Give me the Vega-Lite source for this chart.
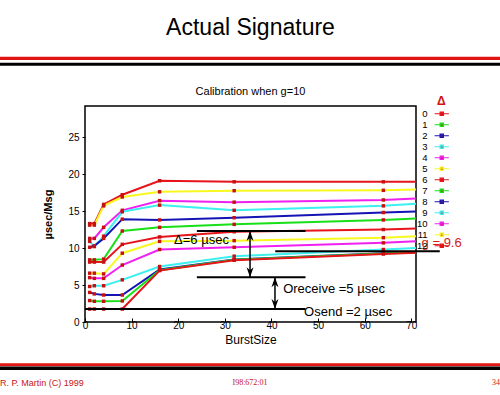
{
  "$schema": "https://vega.github.io/schema/vega-lite/v6.json",
  "width": 331,
  "height": 216,
  "autosize": {"type": "none"},
  "padding": {"left": 85, "top": 106, "right": 84, "bottom": 73},
  "background": "white",
  "config": {
    "font": "Liberation Sans",
    "view": {"stroke": "black", "strokeWidth": 1.5},
    "axis": {"domain": false, "grid": false, "tickColor": "black", "labelColor": "black", "titleColor": "black", "labelFont": "Liberation Sans", "titleFont": "Liberation Sans"}
  },
  "title": {
    "text": "Actual Signature",
    "subtitle": "Calibration when g=10",
    "fontSize": 23,
    "fontWeight": "normal",
    "font": "Liberation Sans",
    "subtitleFont": "Liberation Sans",
    "subtitleFontSize": 11,
    "subtitlePadding": 46,
    "offset": -40,
    "anchor": "middle",
    "color": "black",
    "subtitleColor": "black"
  },
  "datasets": {
    "series": [
      {"d": 12, "x": 1, "y": 13.3}, {"d": 12, "x": 2, "y": 13.3}, {"d": 12, "x": 4, "y": 15.9}, {"d": 12, "x": 8, "y": 17.2}, {"d": 12, "x": 16, "y": 19.1}, {"d": 12, "x": 32, "y": 18.95}, {"d": 12, "x": 64, "y": 18.95}, {"d": 12, "x": 71, "y": 18.95},
      {"d": 11, "x": 1, "y": 13.1}, {"d": 11, "x": 2, "y": 13.1}, {"d": 11, "x": 4, "y": 15.7}, {"d": 11, "x": 8, "y": 16.9}, {"d": 11, "x": 16, "y": 17.6}, {"d": 11, "x": 32, "y": 17.75}, {"d": 11, "x": 64, "y": 17.8}, {"d": 11, "x": 71, "y": 17.9},
      {"d": 10, "x": 1, "y": 11.3}, {"d": 10, "x": 2, "y": 11.3}, {"d": 10, "x": 4, "y": 12.8}, {"d": 10, "x": 8, "y": 15.1}, {"d": 10, "x": 16, "y": 16.4}, {"d": 10, "x": 32, "y": 16.2}, {"d": 10, "x": 64, "y": 16.5}, {"d": 10, "x": 71, "y": 16.7},
      {"d": 9, "x": 1, "y": 10.9}, {"d": 9, "x": 2, "y": 10.2}, {"d": 9, "x": 4, "y": 11.6}, {"d": 9, "x": 8, "y": 14.9}, {"d": 9, "x": 16, "y": 15.8}, {"d": 9, "x": 32, "y": 15.1}, {"d": 9, "x": 64, "y": 15.7}, {"d": 9, "x": 71, "y": 16.0},
      {"d": 8, "x": 1, "y": 10.1}, {"d": 8, "x": 2, "y": 10.3}, {"d": 8, "x": 4, "y": 11.3}, {"d": 8, "x": 8, "y": 13.9}, {"d": 8, "x": 16, "y": 13.8}, {"d": 8, "x": 32, "y": 14.1}, {"d": 8, "x": 64, "y": 14.8}, {"d": 8, "x": 71, "y": 14.95},
      {"d": 7, "x": 1, "y": 8.4}, {"d": 7, "x": 2, "y": 8.4}, {"d": 7, "x": 4, "y": 8.5}, {"d": 7, "x": 8, "y": 12.3}, {"d": 7, "x": 16, "y": 12.8}, {"d": 7, "x": 32, "y": 13.2}, {"d": 7, "x": 64, "y": 13.8}, {"d": 7, "x": 71, "y": 14.0},
      {"d": 6, "x": 1, "y": 8.1}, {"d": 6, "x": 2, "y": 8.1}, {"d": 6, "x": 4, "y": 8.1}, {"d": 6, "x": 8, "y": 10.5}, {"d": 6, "x": 16, "y": 11.5}, {"d": 6, "x": 32, "y": 12.2}, {"d": 6, "x": 64, "y": 12.5}, {"d": 6, "x": 71, "y": 12.65},
      {"d": 5, "x": 1, "y": 6.6}, {"d": 5, "x": 2, "y": 6.6}, {"d": 5, "x": 4, "y": 6.5}, {"d": 5, "x": 8, "y": 9.3}, {"d": 5, "x": 16, "y": 10.9}, {"d": 5, "x": 32, "y": 11.0}, {"d": 5, "x": 64, "y": 11.4}, {"d": 5, "x": 71, "y": 11.6},
      {"d": 4, "x": 1, "y": 6.0}, {"d": 4, "x": 2, "y": 5.9}, {"d": 4, "x": 4, "y": 5.9}, {"d": 4, "x": 8, "y": 7.7}, {"d": 4, "x": 16, "y": 9.8}, {"d": 4, "x": 32, "y": 10.1}, {"d": 4, "x": 64, "y": 10.7}, {"d": 4, "x": 71, "y": 10.9},
      {"d": 3, "x": 1, "y": 4.8}, {"d": 3, "x": 2, "y": 4.9}, {"d": 3, "x": 4, "y": 4.9}, {"d": 3, "x": 8, "y": 5.7}, {"d": 3, "x": 16, "y": 7.5}, {"d": 3, "x": 32, "y": 8.9}, {"d": 3, "x": 64, "y": 9.8}, {"d": 3, "x": 71, "y": 10.0},
      {"d": 2, "x": 1, "y": 4.0}, {"d": 2, "x": 2, "y": 3.8}, {"d": 2, "x": 4, "y": 3.65}, {"d": 2, "x": 8, "y": 3.65}, {"d": 2, "x": 16, "y": 7.1}, {"d": 2, "x": 32, "y": 8.45}, {"d": 2, "x": 64, "y": 9.3}, {"d": 2, "x": 71, "y": 9.45},
      {"d": 1, "x": 1, "y": 2.9}, {"d": 1, "x": 2, "y": 2.8}, {"d": 1, "x": 4, "y": 2.8}, {"d": 1, "x": 8, "y": 2.85}, {"d": 1, "x": 16, "y": 7.0}, {"d": 1, "x": 32, "y": 8.4}, {"d": 1, "x": 64, "y": 9.25}, {"d": 1, "x": 71, "y": 9.4},
      {"d": 0, "x": 1, "y": 1.75}, {"d": 0, "x": 2, "y": 1.75}, {"d": 0, "x": 4, "y": 1.75}, {"d": 0, "x": 8, "y": 1.75}, {"d": 0, "x": 16, "y": 6.95}, {"d": 0, "x": 32, "y": 8.35}, {"d": 0, "x": 64, "y": 9.2}, {"d": 0, "x": 71, "y": 9.35}
    ],
    "levels": [
      {"x": 0, "x2": 47.3, "y": 1.76},
      {"x": 24, "x2": 47.3, "y": 6.04},
      {"x": 24, "x2": 47.3, "y": 12.3},
      {"x": 40.8, "x2": 76.1, "y": 9.55}
    ],
    "arrows": [
      {"x": 35.4, "lo": 6.04, "hi": 12.3},
      {"x": 40.75, "lo": 1.76, "hi": 6.04}
    ],
    "notes": [
      {"x": 19.1, "y": 11.1, "t": "Δ=6 µsec"},
      {"x": 42.5, "y": 4.4, "t": "Oreceive =5 µsec"},
      {"x": 47.0, "y": 1.4, "t": "Osend =2 µsec"}
    ],
    "gnote": [{"x": 72.2, "y": 10.7, "t": "g = 9.6"}]
  },
  "layer": [
    {
      "data": {"values": [{}]},
      "mark": {"type": "rule", "clip": false, "color": "#e01414", "strokeWidth": 3.3},
      "encoding": {
        "x": {"datum": -19, "scale": {"domain": [0, 71], "nice": false, "zero": false}},
        "x2": {"datum": 90},
        "y": {"datum": 35.65, "scale": {"domain": [0, 29.2], "nice": false, "zero": false}}
      }
    },
    {
      "data": {"values": [{}]},
      "mark": {"type": "rule", "clip": false, "color": "black", "strokeWidth": 3},
      "encoding": {
        "x": {"datum": -19},
        "x2": {"datum": 90},
        "y": {"datum": 34.85}
      }
    },
    {
      "data": {"values": [{}]},
      "mark": {"type": "rule", "clip": false, "color": "#e01414", "strokeWidth": 3},
      "encoding": {
        "x": {"datum": -19},
        "x2": {"datum": 90},
        "y": {"datum": -5.77}
      }
    },
    {
      "data": {"values": [{}]},
      "mark": {"type": "rule", "clip": false, "color": "black", "strokeWidth": 3.4},
      "encoding": {
        "x": {"datum": -19},
        "x2": {"datum": 90},
        "y": {"datum": -6.26}
      }
    },
    {
      "data": {"name": "series"},
      "mark": {"type": "line", "strokeWidth": 2, "clip": true},
      "encoding": {
        "x": {
          "field": "x", "type": "quantitative",
          "scale": {"domain": [0, 71], "nice": false, "zero": false},
          "axis": {"values": [0, 10, 20, 30, 40, 50, 60, 70], "title": "BurstSize", "titleFontSize": 12, "titleFontWeight": "normal", "labelFontSize": 10, "tickSize": -4, "labelPadding": 2, "titlePadding": 4, "labelFlush": false}
        },
        "y": {
          "field": "y", "type": "quantitative",
          "scale": {"domain": [0, 29.2], "nice": false, "zero": false},
          "axis": {"values": [0, 5, 10, 15, 20, 25], "title": "µsec/Msg", "titleFontSize": 11, "titleFontWeight": "bold", "labelFontSize": 10, "tickSize": 3, "labelPadding": 3, "titlePadding": 14}
        },
        "color": {
          "field": "d", "type": "ordinal",
          "scale": {"domain": [0, 1, 2, 3, 4, 5, 6, 7, 8, 9, 10, 11, 12], "range": ["#e8141c", "#18e018", "#1414b4", "#3cf0f0", "#f020f0", "#f8f820", "#e8141c", "#18e018", "#1414b4", "#3cf0f0", "#f020f0", "#f8f820", "#e8141c"]},
          "legend": {
            "title": "Δ", "orient": "none", "legendX": 352, "legendY": -10, "padding": 0,
            "symbolType": "M-2.2,0H2.2M-0.5,-0.5H0.5V0.5H-0.5Z", "symbolSize": 42, "symbolStrokeWidth": 1.2,
            "labelAlign": "right", "labelOffset": -19, "labelFontSize": 9.5, "labelFont": "Liberation Sans", "labelColor": "black",
            "rowPadding": 0, "titleColor": "#d01414", "titleFontSize": 12, "titleFont": "Liberation Sans", "titlePadding": 1,
            "encode": {
              "symbols": {"update": {"fill": {"value": "#c81010"}, "fillOpacity": {"value": 1}}}
            }
          }
        }
      }
    },
    {
      "data": {"name": "series"},
      "transform": [{"filter": "datum.x <= 64"}],
      "mark": {"type": "point", "shape": "square", "filled": true, "color": "#c81010", "size": 12, "opacity": 1},
      "encoding": {
        "x": {"field": "x", "type": "quantitative"},
        "y": {"field": "y", "type": "quantitative"}
      }
    },
    {
      "data": {"name": "levels"},
      "mark": {"type": "rule", "clip": false, "color": "black", "strokeWidth": 2},
      "encoding": {
        "x": {"field": "x", "type": "quantitative"},
        "x2": {"field": "x2"},
        "y": {"field": "y", "type": "quantitative"}
      }
    },
    {
      "data": {"name": "arrows"},
      "mark": {"type": "rule", "color": "black", "strokeWidth": 1.5},
      "encoding": {
        "x": {"field": "x", "type": "quantitative"},
        "y": {"field": "lo", "type": "quantitative"},
        "y2": {"field": "hi"}
      }
    },
    {
      "data": {"name": "arrows"},
      "mark": {"type": "point", "shape": "M0,0L0.7,2L0,1.4L-0.7,2Z", "filled": true, "color": "black", "size": 100, "opacity": 1},
      "encoding": {
        "x": {"field": "x", "type": "quantitative"},
        "y": {"field": "hi", "type": "quantitative"}
      }
    },
    {
      "data": {"name": "arrows"},
      "mark": {"type": "point", "shape": "M0,0L0.7,-2L0,-1.4L-0.7,-2Z", "filled": true, "color": "black", "size": 100, "opacity": 1},
      "encoding": {
        "x": {"field": "x", "type": "quantitative"},
        "y": {"field": "lo", "type": "quantitative"}
      }
    },
    {
      "data": {"name": "notes"},
      "mark": {"type": "text", "align": "left", "baseline": "middle", "fontSize": 13, "color": "black", "font": "Liberation Sans"},
      "encoding": {
        "x": {"field": "x", "type": "quantitative"},
        "y": {"field": "y", "type": "quantitative"},
        "text": {"field": "t"}
      }
    },
    {
      "data": {"name": "gnote"},
      "mark": {"type": "text", "align": "left", "baseline": "middle", "fontSize": 13, "color": "#d42020", "font": "Liberation Sans", "clip": false},
      "encoding": {
        "x": {"field": "x", "type": "quantitative"},
        "y": {"field": "y", "type": "quantitative"},
        "text": {"field": "t"}
      }
    },
    {
      "data": {"values": [{"t": "R. P. Martin (C) 1999"}]},
      "mark": {"type": "text", "align": "left", "baseline": "middle", "fontSize": 9, "color": "#c81414", "font": "Liberation Sans"},
      "encoding": {"x": {"datum": -18.23}, "y": {"datum": -8.25}, "text": {"field": "t"}}
    },
    {
      "data": {"values": [{"t": "I98:672:01"}]},
      "mark": {"type": "text", "align": "center", "baseline": "middle", "fontSize": 8, "color": "#c81414", "font": "Liberation Serif"},
      "encoding": {"x": {"datum": 35.4}, "y": {"datum": -8.25}, "text": {"field": "t"}}
    },
    {
      "data": {"values": [{"t": "34"}]},
      "mark": {"type": "text", "align": "right", "baseline": "middle", "fontSize": 8, "color": "#c81414", "font": "Liberation Serif"},
      "encoding": {"x": {"datum": 89.0}, "y": {"datum": -8.25}, "text": {"field": "t"}}
    }
  ]
}
